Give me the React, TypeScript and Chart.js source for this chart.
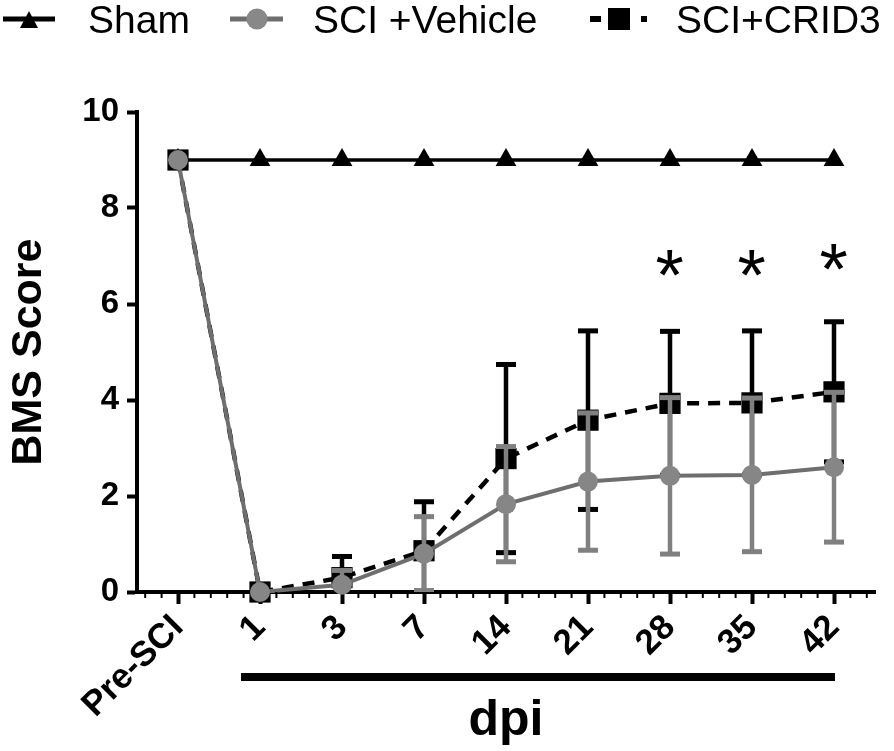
import { useEffect, useRef } from 'react';
import { Chart, registerables } from 'chart.js';

Chart.register(...registerables);

const FONT = '"Liberation Sans", Arial, Helvetica, sans-serif';

// ---- data ----
const dpiLabels = ['Pre-SCI', '1', '3', '7', '14', '21', '28', '35', '42'];
const seriesNames = ['Sham', 'SCI +Vehicle', 'SCI+CRID3'];
const shamMean = [9, 9, 9, 9, 9, 9, 9, 9, 9];
const vehicleMean = [9, 0, 0.15, 0.8, 1.83, 2.3, 2.42, 2.44, 2.6];
const vehicleSD = [0, 0, 0.3, 0.77, 1.2, 1.43, 1.63, 1.6, 1.56];
const crid3Mean = [9, 0, 0.3, 0.86, 2.78, 3.58, 3.93, 3.94, 4.17];
const crid3SD = [0, 0, 0.44, 1.02, 1.96, 1.86, 1.5, 1.5, 1.46];
const sigLabels = ['28', '35', '42'];
const sigValues = [6.85, 6.85, 6.98];
const yTicksMax = 10;
const yTickStep = 2;
const dpiBarFrom = '1';
const dpiBarTo = '42';

const errorBarPlugin = {
  id: 'errorBars',
  beforeDatasetDraw(chart: any, args: any) {
    const ds = chart.data.datasets[args.index];
    if (!ds.errors) return;
    const { ctx, chartArea } = chart;
    const y = chart.scales.y;
    ctx.save();
    ctx.beginPath();
    ctx.rect(chartArea.left, chartArea.top - 40, chartArea.width, chartArea.height + 40);
    ctx.clip();
    ctx.strokeStyle = ds.errorColor;
    ctx.fillStyle = ds.errorColor;
    ctx.lineWidth = 4.5;
    args.meta.data.forEach((pt: any, i: number) => {
      const v = ds.data[i];
      const e = ds.errors[i];
      if (!e) return;
      const x = pt.x;
      const yt = y.getPixelForValue(v + e);
      const yb = y.getPixelForValue(Math.max(0, v - e));
      ctx.beginPath();
      ctx.moveTo(x, yt);
      ctx.lineTo(x, yb);
      ctx.stroke();
      ctx.fillRect(x - 10, yt - 2.5, 20, 5);
      if (v - e >= 0) ctx.fillRect(x - 10, yb - 2.5, 20, 5);
    });
    ctx.restore();
  },
};

const decorPlugin = {
  id: 'decor',
  afterDraw(chart: any) {
    const { ctx, chartArea } = chart;
    const x = chart.scales.x;
    const y = chart.scales.y;
    ctx.save();
    // minor ticks on the x axis
    const n = dpiLabels.length;
    const w = (chartArea.right - chartArea.left) / n;
    ctx.strokeStyle = '#000';
    ctx.lineWidth = 2;
    for (let i = 0; i < n; i++) {
      const c = x.getPixelForValue(i);
      for (const k of [-2, -1, 1, 2]) {
        const px = c + (k * w) / 5;
        ctx.beginPath();
        ctx.moveTo(px, chartArea.bottom);
        ctx.lineTo(px, chartArea.bottom + 6);
        ctx.stroke();
      }
    }
    // dpi bar
    const x1 = x.getPixelForValue(dpiLabels.indexOf(dpiBarFrom)) - 19;
    const x2 = x.getPixelForValue(dpiLabels.indexOf(dpiBarTo)) + 1;
    ctx.fillStyle = '#000';
    ctx.fillRect(x1, 673, x2 - x1, 8);
    // asterisks
    ctx.font = `70px ${FONT}`;
    ctx.textAlign = 'left';
    ctx.textBaseline = 'alphabetic';
    let m = ctx.measureText('*');
    const h0 = m.actualBoundingBoxAscent + m.actualBoundingBoxDescent;
    const size = (70 * 26) / h0;
    ctx.font = `${size}px ${FONT}`;
    m = ctx.measureText('*');
    sigLabels.forEach((lab, i) => {
      const cx = x.getPixelForValue(dpiLabels.indexOf(lab));
      const cy = y.getPixelForValue(sigValues[i]);
      const bx = cx - (m.actualBoundingBoxRight - m.actualBoundingBoxLeft) / 2;
      const by = cy + (m.actualBoundingBoxAscent - m.actualBoundingBoxDescent) / 2;
      ctx.fillText('*', bx, by);
    });
    ctx.restore();
  },
};

const legendPlugin = {
  id: 'customLegend',
  afterDraw(chart: any) {
    const ctx = chart.ctx;
    const cy = 19;
    ctx.save();
    // Sham
    ctx.strokeStyle = '#000';
    ctx.lineWidth = 5;
    ctx.beginPath();
    ctx.moveTo(3, cy);
    ctx.lineTo(55, cy);
    ctx.stroke();
    ctx.fillStyle = '#000';
    ctx.beginPath();
    ctx.moveTo(29, cy - 8);
    ctx.lineTo(38, cy + 9);
    ctx.lineTo(20, cy + 9);
    ctx.closePath();
    ctx.fill();
    // Vehicle
    ctx.strokeStyle = '#6e6e6e';
    ctx.beginPath();
    ctx.moveTo(230, cy);
    ctx.lineTo(283, cy);
    ctx.stroke();
    ctx.fillStyle = '#888888';
    ctx.beginPath();
    ctx.arc(257, cy, 10.5, 0, Math.PI * 2);
    ctx.fill();
    // CRID3
    ctx.fillStyle = '#000';
    ctx.fillRect(590, cy - 3, 11, 6);
    ctx.fillRect(608, cy - 11, 22, 22);
    ctx.fillRect(641, cy - 3, 6, 6);
    // texts
    ctx.font = `39px ${FONT}`;
    ctx.textBaseline = 'alphabetic';
    ctx.textAlign = 'left';
    ctx.fillStyle = '#000';
    ctx.fillText(seriesNames[0], 88, 33);
    ctx.fillText(seriesNames[1], 313, 33);
    ctx.fillText(seriesNames[2], 676, 33);
    ctx.restore();
  },
};

export default function App() {
  const ref = useRef<HTMLCanvasElement>(null);
  useEffect(() => {
    document.body.style.margin = '0';
    const chart = new Chart(ref.current as HTMLCanvasElement, {
      type: 'line',
      data: {
        labels: dpiLabels,
        datasets: [
          {
            label: seriesNames[1],
            data: vehicleMean,
            errors: vehicleSD,
            errorColor: '#808080',
            borderColor: '#6e6e6e',
            borderWidth: 4,
            pointStyle: 'circle',
            pointRadius: 10,
            pointBackgroundColor: '#868686',
            pointBorderWidth: 0,
            tension: 0,
            clip: false,
          } as any,
          {
            label: seriesNames[2],
            data: crid3Mean,
            errors: crid3SD,
            errorColor: '#000000',
            borderColor: '#000000',
            borderWidth: 4.5,
            borderDash: [12, 9],
            pointStyle: 'rect',
            pointRadius: 15,
            pointBackgroundColor: '#000000',
            pointBorderWidth: 0,
            tension: 0,
            clip: false,
          } as any,
          {
            label: seriesNames[0],
            data: shamMean,
            borderColor: '#000000',
            borderWidth: 3.5,
            pointStyle: 'triangle',
            pointRadius: 12,
            pointBackgroundColor: '#000000',
            pointBorderWidth: 0,
            tension: 0,
            clip: false,
          } as any,
        ],
      },
      options: {
        responsive: false,
        animation: false,
        layout: { padding: { top: 112, right: 19, bottom: 0, left: 0 } },
        plugins: { legend: { display: false }, tooltip: { enabled: false } },
        scales: {
          x: {
            type: 'category',
            offset: true,
            grid: {
              offset: false,
              drawOnChartArea: false,
              tickLength: 12,
              tickWidth: 4,
              tickColor: '#000',
              color: '#000',
            },
            border: { display: true, width: 4, color: '#000' },
            ticks: {
              minRotation: 45,
              maxRotation: 45,
              autoSkip: false,
              padding: 3,
              color: '#000',
              font: { family: FONT, size: 35, weight: 'bold' },
            },
            title: {
              display: true,
              text: 'dpi',
              color: '#000',
              font: { family: FONT, size: 50, weight: 'bold' },
              padding: { top: 0, bottom: 0 },
            },
            afterFit: (s: any) => {
              s.height = 159;
            },
          },
          y: {
            min: 0,
            max: yTicksMax,
            grid: {
              drawOnChartArea: false,
              tickLength: 10,
              tickWidth: 4,
              tickColor: '#000',
              color: '#000',
            },
            border: { display: true, width: 4, color: '#000' },
            ticks: {
              stepSize: yTickStep,
              padding: 8,
              color: '#000',
              font: { family: FONT, size: 33, weight: 'bold' },
            },
            title: {
              display: true,
              text: 'BMS Score',
              color: '#000',
              font: { family: FONT, size: 43, weight: 'bold' },
              padding: { top: 3, bottom: 0 },
            },
            afterFit: (s: any) => {
              s.width = 137;
            },
          },
        },
      } as any,
      plugins: [errorBarPlugin, decorPlugin, legendPlugin],
    });
    return () => chart.destroy();
  }, []);
  return (
    <div style={{ width: 894, height: 751 }}>
      <canvas ref={ref} width={894} height={751} style={{ display: 'block' }} />
    </div>
  );
}
